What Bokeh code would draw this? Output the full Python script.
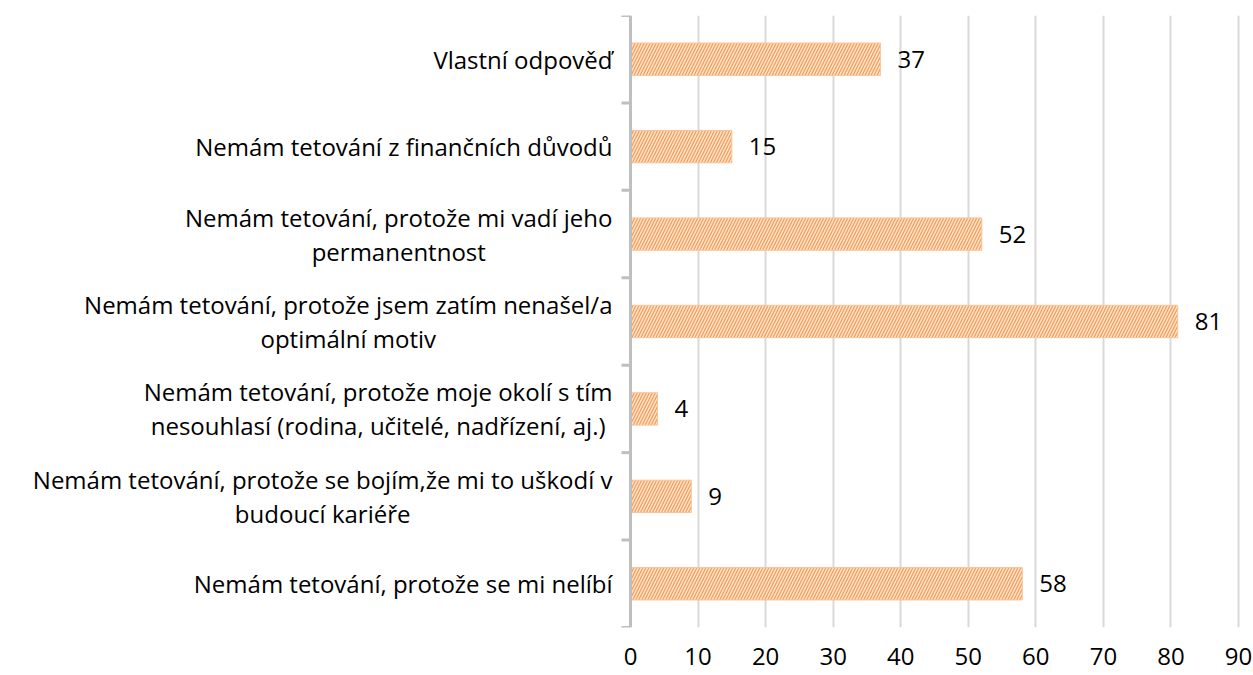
import struct, subprocess, glob
import numpy as np
from bokeh.plotting import figure
from bokeh.models import Range1d, FixedTicker, LabelSet, Label, ColumnDataSource, Span
from bokeh.core.properties import value
from bokeh.embed import file_html
from bokeh.resources import INLINE

categories = [
    "Nemám tetování, protože se mi nelíbí",
    "Nemám tetování, protože se bojím,že mi to uškodí v\nbudoucí kariéře",
    "Nemám tetování, protože moje okolí s tím\nnesouhlasí (rodina, učitelé, nadřízení, aj.)",
    "Nemám tetování, protože jsem zatím nenašel/a\noptimální motiv",
    "Nemám tetování, protože mi vadí jeho\npermanentnost",
    "Nemám tetování z finančních důvodů",
    "Vlastní odpověď",
]
values = [58, 9, 4, 81, 52, 15, 37]
x_ticks = [0, 10, 20, 30, 40, 50, 60, 70, 80, 90]

FONT = "Open Sans"
FSIZE = 24


def _font_path():
    try:
        out = subprocess.run(["fc-match", "-f", "%{file}", "Open Sans:style=Regular"],
                             capture_output=True, text=True, timeout=5).stdout.strip()
        if out:
            return out
    except Exception:
        pass
    c = glob.glob("/usr/share/fonts/**/OpenSans*.ttf", recursive=True)
    return c[0] if c else None


def _load_metrics(path):
    data = open(path, "rb").read()
    num = struct.unpack(">H", data[4:6])[0]
    tables = {}
    for i in range(num):
        off = 12 + 16 * i
        tag = data[off:off + 4].decode("latin1")
        toff, tlen = struct.unpack(">II", data[off + 8:off + 16])
        tables[tag] = toff
    upem = struct.unpack(">H", data[tables["head"] + 18:tables["head"] + 20])[0]
    nhm = struct.unpack(">H", data[tables["hhea"] + 34:tables["hhea"] + 36])[0]
    hm = tables["hmtx"]
    adv = [struct.unpack(">H", data[hm + 4 * i:hm + 4 * i + 2])[0] for i in range(nhm)]
    cm = tables["cmap"]
    nsub = struct.unpack(">H", data[cm + 2:cm + 4])[0]
    subs = {}
    for i in range(nsub):
        pid, eid, soff = struct.unpack(">HHI", data[cm + 4 + 8 * i:cm + 12 + 8 * i])
        subs[(pid, eid)] = cm + soff
    cmap = {}
    st = subs.get((3, 10))
    if st is not None and struct.unpack(">H", data[st:st + 2])[0] == 12:
        ng = struct.unpack(">I", data[st + 12:st + 16])[0]
        for g in range(ng):
            s, e, sg = struct.unpack(">III", data[st + 16 + 12 * g:st + 28 + 12 * g])
            for c in range(s, min(e, 0x2FFFF) + 1):
                cmap[c] = sg + c - s
    else:
        st = subs.get((3, 1)) or subs.get((0, 3))
        seg = struct.unpack(">H", data[st + 6:st + 8])[0] // 2
        ends = struct.unpack(">%dH" % seg, data[st + 14:st + 14 + 2 * seg])
        p0 = st + 16 + 2 * seg
        starts = struct.unpack(">%dH" % seg, data[p0:p0 + 2 * seg])
        deltas = struct.unpack(">%dh" % seg, data[p0 + 2 * seg:p0 + 4 * seg])
        ro_pos = p0 + 4 * seg
        ros = struct.unpack(">%dH" % seg, data[ro_pos:ro_pos + 2 * seg])
        for k in range(seg):
            for c in range(starts[k], ends[k] + 1):
                if c == 0xFFFF:
                    continue
                if ros[k] == 0:
                    g = (c + deltas[k]) & 0xFFFF
                else:
                    a = ro_pos + 2 * k + ros[k] + 2 * (c - starts[k])
                    g = struct.unpack(">H", data[a:a + 2])[0]
                    if g:
                        g = (g + deltas[k]) & 0xFFFF
                cmap[c] = g
    return upem, adv, cmap


try:
    _UPEM, _ADV, _CMAP = _load_metrics(_font_path())
except Exception:
    _UPEM = None


def text_width(s, size):
    if _UPEM is None:
        return 0.55 * size * len(s)
    w = 0
    for ch in s:
        g = _CMAP.get(ord(ch), 0)
        w += _ADV[min(g, len(_ADV) - 1)]
    return w * size / _UPEM


n = len(categories)
ypos = [i + 0.5 for i in range(n)]
bounds = list(range(n + 1))

# layout: frame spans the whole width; value axis 0..90 occupies px 630..1238
W, H = 1253, 675
ZERO_PX, END_PX = 630, 1238
XMAX = x_ticks[-1]
scale = (END_PX - ZERO_PX) / XMAX
x_start = -ZERO_PX / scale
x_end = XMAX + (W - END_PX) / scale

p = figure(width=W, height=H, output_backend="svg", toolbar_location=None,
           x_range=Range1d(x_start, x_end), y_range=Range1d(0, n),
           y_axis_location=None)
p.min_border_left = 0
p.min_border_right = 0
p.min_border_top = 15
p.min_border_bottom = 48
p.outline_line_color = None
p.background_fill_color = "white"

p.xgrid.ticker = FixedTicker(ticks=x_ticks[1:])
p.xgrid.grid_line_color = "#d9d9d9"
p.xgrid.grid_line_width = 2
p.ygrid.grid_line_color = None

p.xaxis.ticker = FixedTicker(ticks=x_ticks)
p.xaxis.axis_line_color = None
p.xaxis.major_tick_line_color = None
p.xaxis.minor_tick_line_color = None
p.xaxis.major_label_text_font = FONT
p.xaxis.major_label_text_font_size = "%dpx" % FSIZE
p.xaxis.major_label_text_color = "#000000"
p.xaxis.major_label_standoff = 14

src = ColumnDataSource(dict(y=ypos, v=values, t=[str(v) for v in values]))
p.hbar(y="y", right="v", left=0, height=0.37, source=src,
       fill_color="#fde2cc", line_color="#f9c49a", line_width=1,
       hatch_pattern="/", hatch_color="#f59a52", hatch_scale=6, hatch_weight=1.2)

labels = LabelSet(x="v", y="y", text="t", source=src, x_offset=17,
                  text_baseline="middle", text_align="left",
                  text_font=value(FONT), text_font_size="%dpx" % FSIZE,
                  text_color="#000000")
p.add_layout(labels)

# category axis line and boundary ticks
p.add_layout(Span(location=0, dimension="height", line_color="#bfbfbf", line_width=3))
p.ray(x=[0] * len(bounds), y=bounds, length=9, length_units="screen", angle=np.pi,
      line_color="#bfbfbf", line_width=3)

# category labels: block right-aligned, lines centred within the block
GAP = 18
LINE = 34
for y, cat in zip(ypos, categories):
    lines = cat.split("\n")
    if len(lines) == 1:
        p.add_layout(Label(x=0, y=y, x_offset=-GAP, text=cat, text_align="right",
                           text_baseline="middle", text_font=FONT,
                           text_font_size="%dpx" % FSIZE, text_color="#000000"))
    else:
        wmax = max(text_width(s, FSIZE) for s in lines)
        k = len(lines)
        for j, s in enumerate(lines):
            yo = (k - 1) / 2 * LINE - j * LINE
            p.add_layout(Label(x=0, y=y, x_offset=-GAP - wmax / 2, y_offset=yo,
                               text=s, text_align="center", text_baseline="middle",
                               text_font=FONT, text_font_size="%dpx" % FSIZE,
                               text_color="#000000"))

open("out.html", "w").write(file_html(p, INLINE))
